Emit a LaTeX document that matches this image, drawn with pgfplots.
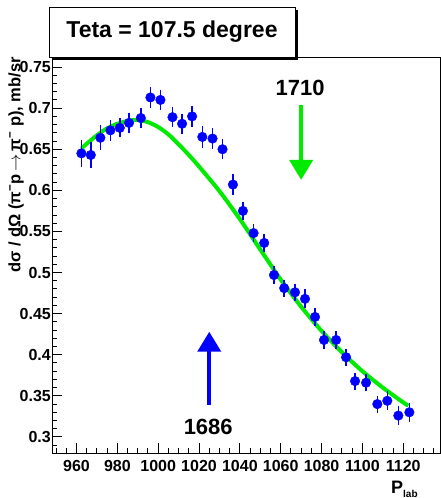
\documentclass[border=0pt]{standalone}
\usepackage{fontspec}
\setmainfont{Liberation Sans}
\usepackage{pgfplots}
\pgfplotsset{compat=1.18}
\usepackage{pgfplotstable}
\usetikzlibrary{arrows.meta}
\definecolor{rootgreen}{RGB}{0,235,0}
\definecolor{rootblue}{RGB}{0,0,255}

\pgfplotstableread{
p v e
962.4 0.645 0.013
967.0 0.643 0.013
971.7 0.664 0.012
976.6 0.673 0.009
981.2 0.676 0.008
985.7 0.682 0.009
991.5 0.688 0.009
996.2 0.713 0.009
1001.1 0.710 0.009
1007.0 0.689 0.009
1011.7 0.681 0.009
1016.6 0.690 0.009
1021.6 0.665 0.010
1026.6 0.663 0.009
1031.5 0.650 0.009
1036.6 0.607 0.009
1041.5 0.575 0.008
1046.7 0.548 0.008
1051.9 0.536 0.008
1056.7 0.497 0.007
1061.7 0.481 0.007
1067.0 0.476 0.007
1071.9 0.468 0.008
1076.8 0.446 0.007
1081.2 0.418 0.007
1087.1 0.418 0.007
1092.0 0.397 0.007
1096.4 0.368 0.007
1101.8 0.366 0.007
1107.3 0.340 0.007
1112.2 0.344 0.008
1117.6 0.326 0.008
1123.0 0.330 0.008
}\datatable

\pgfplotstableread{
p v
962.4 0.651
968 0.663
974 0.674
980 0.681
986 0.685
990 0.6855
995 0.683
1000 0.677
1005 0.668
1010 0.656
1015 0.643
1020 0.629
1030 0.599
1040 0.565
1050 0.528
1060 0.4915
1070 0.4585
1080 0.429
1090 0.403
1100 0.380
1110 0.360
1120 0.342
1122.5 0.338
}\fittable

\begin{document}
\begin{tikzpicture}[x=1pt,y=1pt]
\useasboundingbox (0,0) rectangle (441,498);
\begin{axis}[
  at={(52pt,45pt)}, anchor=south west,
  scale only axis, width=388pt, height=395pt,
  xmin=948, xmax=1138, ymin=0.2805, ymax=0.761,
  axis line style={black, line width=1pt},
  xtick={960,980,...,1120},
  minor xtick={950,955,...,1135},
  ytick={0.3,0.35,0.4,0.45,0.5,0.55,0.6,0.65,0.7,0.75},
  minor ytick={0.29,0.30,...,0.76},
  xtick pos=bottom, ytick pos=left,
  tick align=inside,
  major tick length=10pt, minor tick length=5pt,
  tick style={black, line width=1pt},
  ticklabel style={font=\fontsize{16}{16}\selectfont\bfseries},
  /pgf/number format/assume math mode=true,
  /pgf/number format/1000 sep={},
  xticklabel style={inner sep=0pt, yshift=-7pt},
  yticklabel style={inner sep=1pt},
  clip=false,
]
\addplot[rootgreen, line width=4pt, smooth, tension=0.5] table[x=p,y=v] {\fittable};
\addplot[rootblue, only marks, mark=*, mark size=4.8pt,
  mark options={fill=rootblue, draw=rootblue},
  error bars/.cd, y dir=both, y explicit,
  error bar style={rootblue, line width=1.5pt},
  error mark options={rootblue, mark size=2.8pt, line width=1.5pt}]
  table[x=p, y=v, y error=e] {\datatable};
\draw[rootgreen, line width=4pt, -{Triangle[width=23pt,length=20pt]}] (axis cs:1070,0.704) -- (axis cs:1070,0.6127);
\draw[rootblue, line width=4pt, -{Triangle[width=23pt,length=20pt]}] (axis cs:1025,0.339) -- (axis cs:1025,0.428);
\node[font=\fontsize{22}{22}\selectfont\bfseries] at (axis cs:1069.5,0.7246) {1710};
\node[font=\fontsize{22}{22}\selectfont\bfseries] at (axis cs:1024.5,0.3125) {1686};
\end{axis}
% title box
\fill[black] (52,438) rectangle (298,488);
\draw[black, line width=0.8pt, fill=white] (49,441) rectangle (295,491);
\node[font=\fontsize{23}{23}\selectfont\bfseries] at (172,466) {Teta = 107.5 degree};
% axis labels
\node[rotate=90, anchor=east, inner sep=0pt, font=\fontsize{16.5}{16.5}\selectfont\bfseries] at (16,441) {dσ / dΩ (π\textsuperscript{−}p\,$\rightarrow$\,π\textsuperscript{−} p), mb/sr};
\node[anchor=base west, inner sep=0pt] at (391,5) {\fontsize{18}{18}\selectfont\bfseries P\raisebox{-4pt}{\fontsize{10}{10}\selectfont lab}};
\end{tikzpicture}
\end{document}
